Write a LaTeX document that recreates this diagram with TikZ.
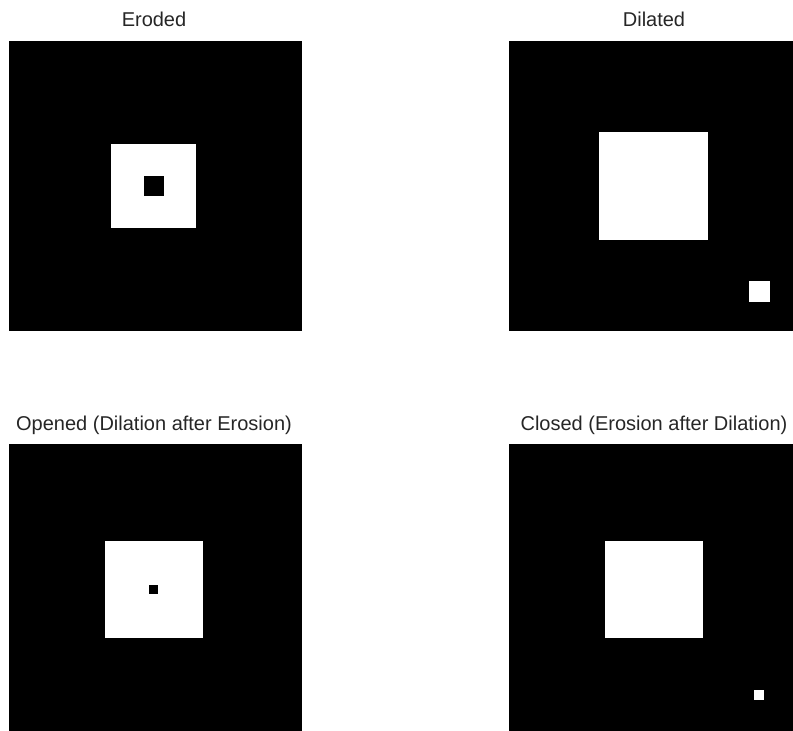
\documentclass[tikz,border=0pt]{standalone}
\usepackage{fontspec}
\setmainfont{Liberation Sans}
\begin{document}
\begin{tikzpicture}[x=1pt,y=-1pt,
  panel/.style={fill=black},
  hole/.style={fill=white},
  spot/.style={fill=black},
  ttl/.style={anchor=base,inner sep=0pt,font=\fontsize{20}{24}\selectfont,text=black!85}]
\useasboundingbox (0,0) rectangle (793,731);
% Eroded
\node[ttl] (t1) at (154,26) {Eroded};
\fill[panel] (9,41) rectangle (302,331);
\fill[hole] (110.7,144) rectangle (196.3,228.3);
\fill[spot] (144,176) rectangle (164,196.3);
% Dilated
\node[ttl] (t2) at (654,26) {Dilated};
\fill[panel] (509,41) rectangle (793,331);
\fill[hole] (599.3,132) rectangle (708.3,240);
\fill[hole] (748.7,281) rectangle (769.7,302);
% Opened
\node[ttl] (t3) at (154,430) {Opened (Dilation after Erosion)};
\fill[panel] (9,444.3) rectangle (302,731);
\fill[hole] (105.3,540.7) rectangle (202.7,637.7);
\fill[spot] (149.3,585.3) rectangle (158.3,594);
% Closed
\node[ttl] (t4) at (654,430) {Closed (Erosion after Dilation)};
\fill[panel] (509,444.3) rectangle (793,731);
\fill[hole] (605,540.7) rectangle (702.7,637.7);
\fill[hole] (754.3,690) rectangle (764.3,700);
\end{tikzpicture}
\end{document}
